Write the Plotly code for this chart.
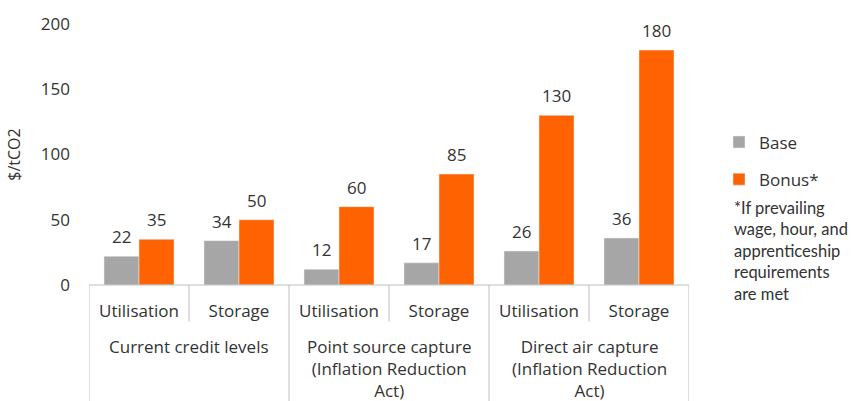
import plotly.graph_objects as go

# Credit levels for carbon capture, $/tCO2
groups = ["Current credit levels",
          "Point source capture<br>(Inflation Reduction<br>Act)",
          "Direct air capture<br>(Inflation Reduction<br>Act)"]
subcats = ["Utilisation", "Storage", "Utilisation", "Storage", "Utilisation", "Storage"]
base_vals = [22, 34, 12, 17, 26, 36]
bonus_vals = [35, 50, 60, 85, 130, 180]

GREY = "#A6A6A6"
ORANGE = "#FF6200"
TEXT = "#333333"
LINE = "#BFBFBF"
FONT = "Open Sans"
BAR_W = 0.35  # width of one bar in category units (bargap 0.3, two bars)

xpos = list(range(len(subcats)))

fig = go.Figure()
fig.add_trace(go.Bar(x=xpos, y=base_vals, name="Base", marker_color=GREY, legendgroup="a"))
fig.add_trace(go.Bar(x=xpos, y=bonus_vals, name="Bonus*", marker_color=ORANGE, legendgroup="b"))

annotations = []
# value labels above each bar
for vals, off in ((base_vals, -BAR_W / 2), (bonus_vals, BAR_W / 2)):
    for xi, v in zip(xpos, vals):
        annotations.append(dict(
            x=xi + off, y=v, xref="x", yref="y", text=str(v), showarrow=False,
            xanchor="center", yanchor="bottom", yshift=6,
            font=dict(size=17, color=TEXT, family=FONT),
        ))

shapes = []
# baseline under the bars
shapes.append(dict(type="line", xref="x", yref="paper", x0=-0.5, x1=len(subcats) - 0.5,
                   y0=0, y1=0, line=dict(color=LINE, width=1)))
# group separators running down to the figure edge
for xb in [-0.5, 1.5, 3.5, 5.5]:
    shapes.append(dict(type="line", xref="x", yref="paper", x0=xb, x1=xb,
                       y0=0, y1=-0.45, line=dict(color=LINE, width=1)))
# short separators between sub-categories
for xb in [0.5, 2.5, 4.5]:
    shapes.append(dict(type="line", xref="x", yref="paper", x0=xb, x1=xb,
                       y0=0, y1=-0.14, line=dict(color=LINE, width=1)))

for i, g in enumerate(groups):
    annotations.append(dict(
        x=2 * i + 0.5, y=-0.185, xref="x", yref="paper", text=g,
        showarrow=False, xanchor="center", yanchor="top", align="center",
        font=dict(size=17, color=TEXT, family=FONT),
    ))
annotations.append(dict(
    x=1.072, y=0.342, xref="paper", yref="paper",
    text="*If prevailing<br>wage, hour, and<br>apprenticeship<br>requirements<br>are met",
    showarrow=False, xanchor="left", yanchor="top", align="left",
    font=dict(size=16.5, color=TEXT, family="Lato"),
))

fig.update_layout(
    width=851, height=401,
    margin=dict(l=89, r=162, t=22, b=116),
    paper_bgcolor="white", plot_bgcolor="white",
    font=dict(family=FONT, size=17, color=TEXT),
    barmode="group", bargap=0.3, bargroupgap=0,
    showlegend=True,
    legend=dict(x=1.05, y=0.615, xanchor="left", yanchor="top",
                traceorder="grouped", tracegroupgap=12,
                font=dict(size=17, color=TEXT, family=FONT),
                itemwidth=30),
    xaxis=dict(tickvals=xpos, ticktext=subcats, range=[-0.5, len(subcats) - 0.5],
               showline=False, showgrid=False, zeroline=False, ticks="",
               ticklabelstandoff=14,
               tickfont=dict(size=17, color=TEXT)),
    yaxis=dict(range=[0, 200], tickvals=[0, 50, 100, 150, 200],
               showgrid=False, zeroline=False, showline=False, ticks="",
               ticklabelstandoff=18,
               tickfont=dict(size=17, color=TEXT),
               title=dict(text="$/tCO2", font=dict(size=16, color=TEXT), standoff=16)),
    shapes=shapes, annotations=annotations,
)

fig.write_html("out.html")
